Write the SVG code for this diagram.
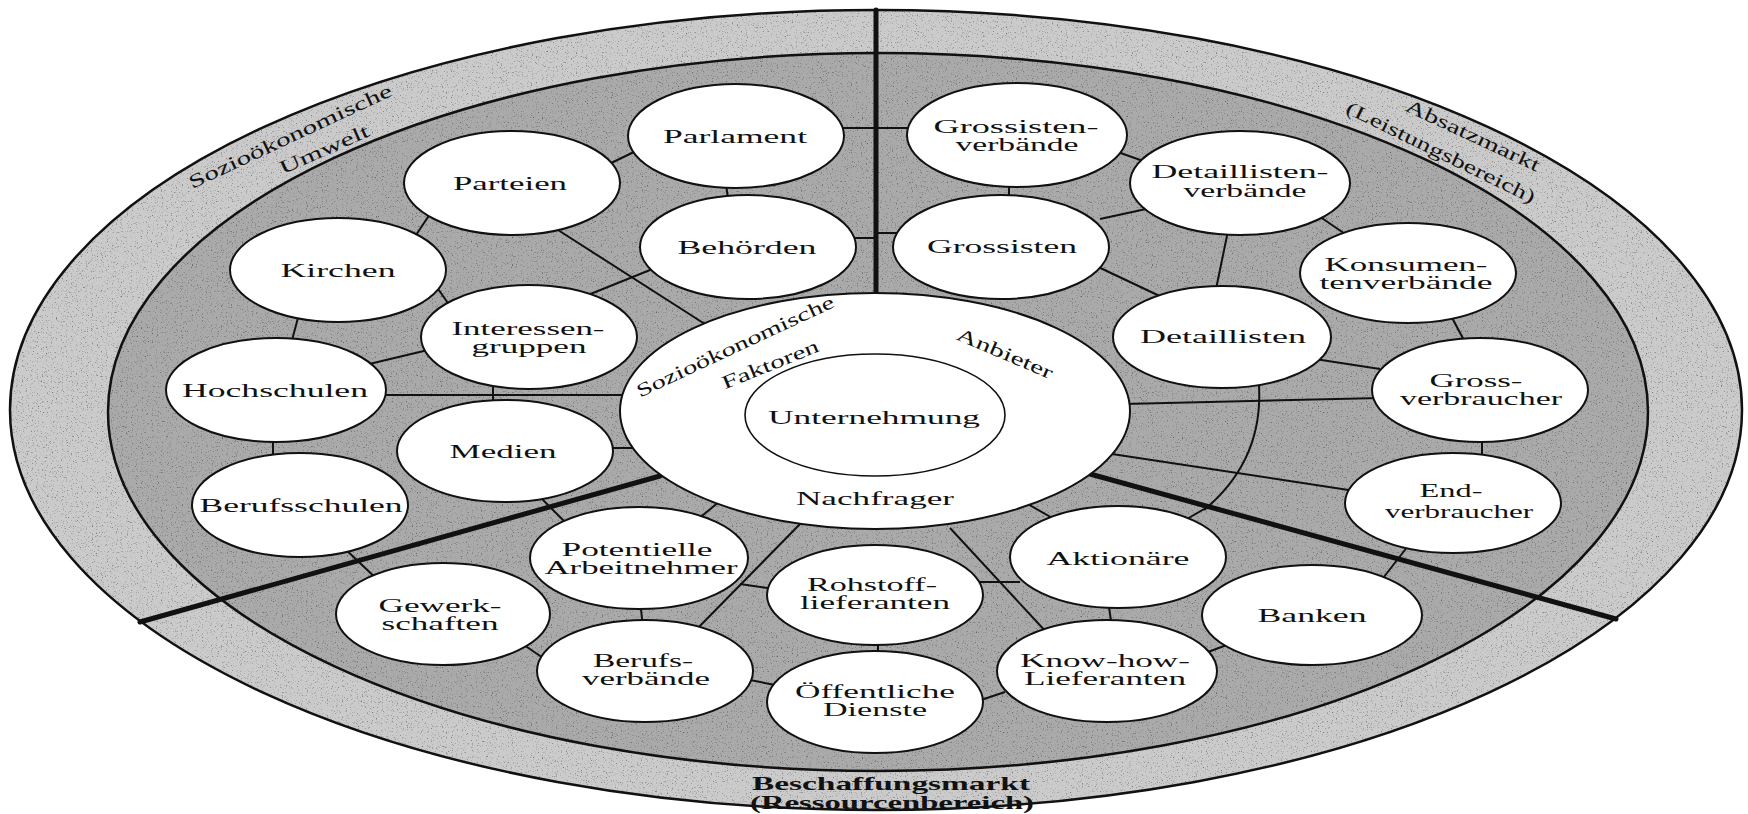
<svg xmlns="http://www.w3.org/2000/svg" width="1748" height="814" viewBox="0 0 1748 814">
<style>
.ring{stroke:#111;stroke-width:2.5}
.thick{stroke:#111;stroke-width:5;fill:none;stroke-linecap:round}
.thin{stroke:#111;stroke-width:2;fill:none}
.node{fill:#fff;stroke:#111;stroke-width:2}
.t{font-family:"Liberation Serif","Times New Roman",serif;font-size:19px;fill:#111;text-anchor:middle}
.b{font-weight:bold}
</style>
<defs>
<clipPath id="ov"><ellipse cx="876" cy="410" rx="866" ry="400"/></clipPath>
<filter id="grain" filterUnits="userSpaceOnUse" x="0" y="0" width="1748" height="814">
<feTurbulence type="fractalNoise" baseFrequency="0.8" numOctaves="2" seed="4" result="noise"/>
<feColorMatrix in="noise" type="matrix" values="0 0 0 0 0  0 0 0 0 0  0 0 0 0 0  1.6 0 0 0 -0.95"/>
</filter>
</defs>
<rect width="1748" height="814" fill="#fff"/>
<g id="background">
<ellipse cx="876" cy="410" rx="866" ry="400" fill="#cbcbcb"/>
<ellipse cx="878" cy="412" rx="770" ry="359" fill="#aaaaaa"/>
<rect width="1748" height="814" filter="url(#grain)" clip-path="url(#ov)"/>
<ellipse class="ring" cx="876" cy="410" rx="866" ry="400" fill="none"/>
<ellipse class="ring" cx="878" cy="412" rx="770" ry="359" fill="none"/>
</g>
<g id="connectors">
<line class="thick" x1="876" y1="10" x2="876" y2="296"/>
<line class="thick" x1="140" y1="622" x2="660" y2="476"/>
<line class="thick" x1="1090" y1="474" x2="1616" y2="619"/>
<path class="thin" d="M1259,386 C1262,440 1240,480 1204,510"/>
<line class="thin" x1="605" y1="166" x2="638" y2="150"/>
<line class="thin" x1="726" y1="184" x2="728" y2="199"/>
<line class="thin" x1="840" y1="128" x2="876" y2="128"/>
<line class="thin" x1="850" y1="238" x2="876" y2="238"/>
<line class="thin" x1="558" y1="230" x2="708" y2="326"/>
<line class="thin" x1="655" y1="268" x2="583" y2="297"/>
<line class="thin" x1="414" y1="238" x2="430" y2="214"/>
<line class="thin" x1="436" y1="286" x2="450" y2="306"/>
<line class="thin" x1="299" y1="314" x2="291" y2="344"/>
<line class="thin" x1="365" y1="365" x2="428" y2="350"/>
<line class="thin" x1="380" y1="395" x2="630" y2="395"/>
<line class="thin" x1="493" y1="382" x2="493" y2="405"/>
<line class="thin" x1="273" y1="436" x2="273" y2="460"/>
<line class="thin" x1="605" y1="448" x2="640" y2="448"/>
<line class="thin" x1="536" y1="493" x2="568" y2="525"/>
<line class="thin" x1="342" y1="546" x2="380" y2="582"/>
<line class="thin" x1="697" y1="520" x2="720" y2="501"/>
<line class="thin" x1="802" y1="522" x2="694" y2="632"/>
<line class="thin" x1="640" y1="600" x2="643" y2="628"/>
<line class="thin" x1="524" y1="645" x2="546" y2="660"/>
<line class="thin" x1="745" y1="679" x2="775" y2="685"/>
<line class="thin" x1="878" y1="638" x2="878" y2="660"/>
<line class="thin" x1="740" y1="584" x2="775" y2="589"/>
<line class="thin" x1="975" y1="582" x2="1020" y2="582"/>
<line class="thin" x1="950" y1="528" x2="1048" y2="634"/>
<line class="thin" x1="1026" y1="503" x2="1054" y2="519"/>
<line class="thin" x1="1108" y1="600" x2="1112" y2="628"/>
<line class="thin" x1="1200" y1="655" x2="1232" y2="643"/>
<line class="thin" x1="975" y1="702" x2="1005" y2="692"/>
<line class="thin" x1="1180" y1="523" x2="1206" y2="508"/>
<line class="thin" x1="876" y1="128" x2="912" y2="128"/>
<line class="thin" x1="876" y1="233" x2="900" y2="233"/>
<line class="thin" x1="1112" y1="150" x2="1146" y2="162"/>
<line class="thin" x1="1009" y1="180" x2="1009" y2="202"/>
<line class="thin" x1="1100" y1="219" x2="1146" y2="209"/>
<line class="thin" x1="1094" y1="265" x2="1166" y2="299"/>
<line class="thin" x1="1229" y1="226" x2="1215" y2="294"/>
<line class="thin" x1="1316" y1="214" x2="1348" y2="236"/>
<line class="thin" x1="1450" y1="314" x2="1466" y2="344"/>
<line class="thin" x1="1315" y1="359" x2="1380" y2="369"/>
<line class="thin" x1="1124" y1="404" x2="1380" y2="398"/>
<line class="thin" x1="1112" y1="454" x2="1355" y2="491"/>
<line class="thin" x1="1482" y1="436" x2="1482" y2="460"/>
<line class="thin" x1="1408" y1="546" x2="1380" y2="582"/>
</g>
<g id="center">
<ellipse class="node" cx="875" cy="411" rx="255" ry="118"/>
<ellipse cx="875" cy="415" rx="130" ry="61" fill="#fff" stroke="#111" stroke-width="1.6"/>
<text class="t" x="874" y="424" textLength="212" lengthAdjust="spacingAndGlyphs">Unternehmung</text>
<text class="t" x="875" y="505" textLength="158" lengthAdjust="spacingAndGlyphs">Nachfrager</text>
<text class="t" transform="translate(735,346) rotate(-25)" x="0" y="0" dy="0.35em" textLength="216" lengthAdjust="spacingAndGlyphs">Sozioökonomische</text>
<text class="t" transform="translate(770,364) rotate(-22)" x="0" y="0" dy="0.35em" textLength="103" lengthAdjust="spacingAndGlyphs">Faktoren</text>
<text class="t" transform="translate(1005,353) rotate(23)" x="0" y="0" dy="0.35em" textLength="103" lengthAdjust="spacingAndGlyphs">Anbieter</text>
</g>
<g id="labels">
<text class="t" transform="translate(290,136) rotate(-25)" x="0" y="0" dy="0.35em" textLength="222" lengthAdjust="spacingAndGlyphs">Sozioökonomische</text>
<text class="t" transform="translate(324,149) rotate(-24)" x="0" y="0" dy="0.35em" textLength="96" lengthAdjust="spacingAndGlyphs">Umwelt</text>
<text class="t" transform="translate(1473,135) rotate(25)" x="0" y="0" dy="0.35em" textLength="146" lengthAdjust="spacingAndGlyphs">Absatzmarkt</text>
<text class="t" transform="translate(1441,152) rotate(26)" x="0" y="0" dy="0.35em" textLength="208" lengthAdjust="spacingAndGlyphs">(Leistungsbereich)</text>
<text class="t b" x="891" y="790" textLength="278" lengthAdjust="spacingAndGlyphs">Beschaffungsmarkt</text>
<text class="t b" x="892" y="809" textLength="284" lengthAdjust="spacingAndGlyphs">(Ressourcenbereich)</text>
</g>
<g id="n-parlament"><ellipse class="node" cx="736" cy="136" rx="108" ry="52"/><text class="t" x="735" y="143" textLength="144" lengthAdjust="spacingAndGlyphs">Parlament</text></g>
<g id="n-parteien"><ellipse class="node" cx="512" cy="183" rx="108" ry="52"/><text class="t" x="510" y="190" textLength="114" lengthAdjust="spacingAndGlyphs">Parteien</text></g>
<g id="n-behoerden"><ellipse class="node" cx="748" cy="247" rx="108" ry="52"/><text class="t" x="747" y="254" textLength="139" lengthAdjust="spacingAndGlyphs">Behörden</text></g>
<g id="n-interessengruppen"><ellipse class="node" cx="529" cy="337" rx="108" ry="52"/><text class="t" x="528" y="335" textLength="153" lengthAdjust="spacingAndGlyphs">Interessen-</text><text class="t" x="529" y="353" textLength="115" lengthAdjust="spacingAndGlyphs">gruppen</text></g>
<g id="n-kirchen"><ellipse class="node" cx="338" cy="270" rx="108" ry="52"/><text class="t" x="338" y="277" textLength="115" lengthAdjust="spacingAndGlyphs">Kirchen</text></g>
<g id="n-hochschulen"><ellipse class="node" cx="276" cy="390" rx="110" ry="52"/><text class="t" x="275" y="397" textLength="186" lengthAdjust="spacingAndGlyphs">Hochschulen</text></g>
<g id="n-medien"><ellipse class="node" cx="505" cy="451" rx="108" ry="51"/><text class="t" x="503" y="458" textLength="107" lengthAdjust="spacingAndGlyphs">Medien</text></g>
<g id="n-berufsschulen"><ellipse class="node" cx="300" cy="505" rx="108" ry="52"/><text class="t" x="301" y="512" textLength="203" lengthAdjust="spacingAndGlyphs">Berufsschulen</text></g>
<g id="n-potentielle"><ellipse class="node" cx="639" cy="558" rx="109" ry="51"/><text class="t" x="637" y="556" textLength="151" lengthAdjust="spacingAndGlyphs">Potentielle</text><text class="t" x="641" y="574" textLength="193" lengthAdjust="spacingAndGlyphs">Arbeitnehmer</text></g>
<g id="n-gewerkschaften"><ellipse class="node" cx="443" cy="614" rx="107" ry="51"/><text class="t" x="440" y="612" textLength="123" lengthAdjust="spacingAndGlyphs">Gewerk-</text><text class="t" x="440" y="630" textLength="117" lengthAdjust="spacingAndGlyphs">schaften</text></g>
<g id="n-berufsverbaende"><ellipse class="node" cx="645" cy="671" rx="108" ry="51"/><text class="t" x="643" y="667" textLength="100" lengthAdjust="spacingAndGlyphs">Berufs-</text><text class="t" x="646" y="685" textLength="128" lengthAdjust="spacingAndGlyphs">verbände</text></g>
<g id="n-rohstoff"><ellipse class="node" cx="875" cy="595" rx="108" ry="50"/><text class="t" x="872" y="591" textLength="130" lengthAdjust="spacingAndGlyphs">Rohstoff-</text><text class="t" x="875" y="609" textLength="150" lengthAdjust="spacingAndGlyphs">lieferanten</text></g>
<g id="n-oeffentliche"><ellipse class="node" cx="875" cy="702" rx="108" ry="51"/><text class="t" x="875" y="698" textLength="160" lengthAdjust="spacingAndGlyphs">Öffentliche</text><text class="t" x="875" y="716" textLength="104" lengthAdjust="spacingAndGlyphs">Dienste</text></g>
<g id="n-aktionaere"><ellipse class="node" cx="1118" cy="557" rx="108" ry="51"/><text class="t" x="1118" y="565" textLength="143" lengthAdjust="spacingAndGlyphs">Aktionäre</text></g>
<g id="n-knowhow"><ellipse class="node" cx="1107" cy="671" rx="110" ry="51"/><text class="t" x="1105" y="667" textLength="170" lengthAdjust="spacingAndGlyphs">Know-how-</text><text class="t" x="1105" y="685" textLength="162" lengthAdjust="spacingAndGlyphs">Lieferanten</text></g>
<g id="n-banken"><ellipse class="node" cx="1312" cy="615" rx="110" ry="50"/><text class="t" x="1312" y="622" textLength="109" lengthAdjust="spacingAndGlyphs">Banken</text></g>
<g id="n-endverbraucher"><ellipse class="node" cx="1453" cy="503" rx="108" ry="50"/><text class="t" x="1451" y="497" textLength="63" lengthAdjust="spacingAndGlyphs">End-</text><text class="t" x="1459" y="518" textLength="148" lengthAdjust="spacingAndGlyphs">verbraucher</text></g>
<g id="n-grossverbraucher"><ellipse class="node" cx="1480" cy="390" rx="108" ry="52"/><text class="t" x="1476" y="387" textLength="93" lengthAdjust="spacingAndGlyphs">Gross-</text><text class="t" x="1481" y="405" textLength="162" lengthAdjust="spacingAndGlyphs">verbraucher</text></g>
<g id="n-konsumentenverbaende"><ellipse class="node" cx="1408" cy="273" rx="108" ry="50"/><text class="t" x="1406" y="271" textLength="163" lengthAdjust="spacingAndGlyphs">Konsumen-</text><text class="t" x="1406" y="289" textLength="173" lengthAdjust="spacingAndGlyphs">tenverbände</text></g>
<g id="n-detaillisten"><ellipse class="node" cx="1222" cy="337" rx="109" ry="51"/><text class="t" x="1223" y="343" textLength="166" lengthAdjust="spacingAndGlyphs">Detaillisten</text></g>
<g id="n-detaillistenverbaende"><ellipse class="node" cx="1240" cy="183" rx="110" ry="52"/><text class="t" x="1240" y="178" textLength="177" lengthAdjust="spacingAndGlyphs">Detaillisten-</text><text class="t" x="1245" y="197" textLength="123" lengthAdjust="spacingAndGlyphs">verbände</text></g>
<g id="n-grossisten"><ellipse class="node" cx="1001" cy="247" rx="108" ry="52"/><text class="t" x="1002" y="253" textLength="150" lengthAdjust="spacingAndGlyphs">Grossisten</text></g>
<g id="n-grossistenverbaende"><ellipse class="node" cx="1017" cy="135" rx="110" ry="52"/><text class="t" x="1016" y="133" textLength="165" lengthAdjust="spacingAndGlyphs">Grossisten-</text><text class="t" x="1017" y="151" textLength="123" lengthAdjust="spacingAndGlyphs">verbände</text></g>
</svg>
